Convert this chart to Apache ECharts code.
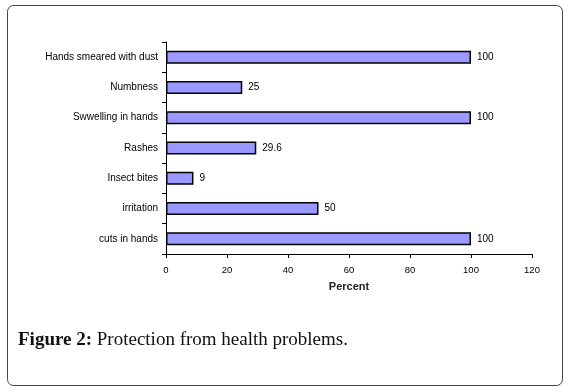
<!DOCTYPE html>
<html>
<head>
<meta charset="utf-8">
<script src="https://cdn.jsdelivr.net/npm/echarts@6/dist/echarts.min.js"></script>
<style>
  html, body { margin: 0; padding: 0; background: #fff; }
  #container { width: 569px; height: 392px; }
</style>
</head>
<body>
<div id="container"></div>
<script>
// categories bottom -> top (category axis draws the first one at the bottom)
let categories = ['cuts in hands', 'irritation', 'Insect bites', 'Rashes', 'Swwelling in hands', 'Numbness', 'Hands smeared with dust'];
let percent = [100, 50, 9, 29.6, 100, 25, 100];
let xTicks = [0, 20, 40, 60, 80, 100, 120];

let dom = document.getElementById("container");
let myChart = echarts.init(dom);

let option = {
    animation: false,
    grid: { left: 166, right: 37, top: 42, bottom: 138 },
    xAxis: {
        type: 'value',
        min: xTicks[0],
        max: xTicks[xTicks.length - 1],
        interval: 20,
        name: 'Percent',
        nameLocation: 'middle',
        nameGap: 27,
        nameTextStyle: {
            fontFamily: 'Liberation Sans',
            fontWeight: 'bold',
            fontSize: 11,
            color: '#222'
        },
        axisLine: { show: true, lineStyle: { color: '#000', width: 1 } },
        axisTick: { show: true, length: 4, lineStyle: { color: '#000' } },
        splitLine: { show: false },
        axisLabel: {
            fontFamily: 'Liberation Sans',
            fontSize: 9.5,
            color: '#000',
            margin: 11
        }
    },
    yAxis: {
        type: 'category',
        data: categories,
        axisLine: { show: true, lineStyle: { color: '#000', width: 1 } },
        axisTick: { show: true, length: 4, lineStyle: { color: '#000' } },
        axisLabel: {
            fontFamily: 'Liberation Sans',
            fontSize: 10,
            color: '#000',
            margin: 8
        }
    },
    series: [
        {
            type: 'bar',
            data: percent,
            barWidth: 13,
            itemStyle: {
                color: '#9999ff',
                borderColor: '#000',
                borderWidth: 1.5
            },
            label: {
                show: true,
                position: 'right',
                distance: 6,
                fontFamily: 'Liberation Sans',
                fontSize: 10,
                color: '#000'
            }
        }
    ],
    graphic: [
        {
            type: 'rect',
            shape: { x: 7.5, y: 5.5, width: 555, height: 380, r: 6 },
            style: { fill: 'none', stroke: '#444', lineWidth: 1 }
        },
        {
            type: 'text',
            left: 18,
            top: 331,
            style: {
                text: '{b|Figure 2:} Protection from health problems.',
                fontFamily: 'Liberation Serif',
                fontSize: 19,
                fill: '#111',
                rich: {
                    b: { fontFamily: 'Liberation Serif', fontSize: 19, fontWeight: 'bold', fill: '#111' }
                }
            }
        }
    ]
};
myChart.setOption(option);
</script>
</body>
</html>
